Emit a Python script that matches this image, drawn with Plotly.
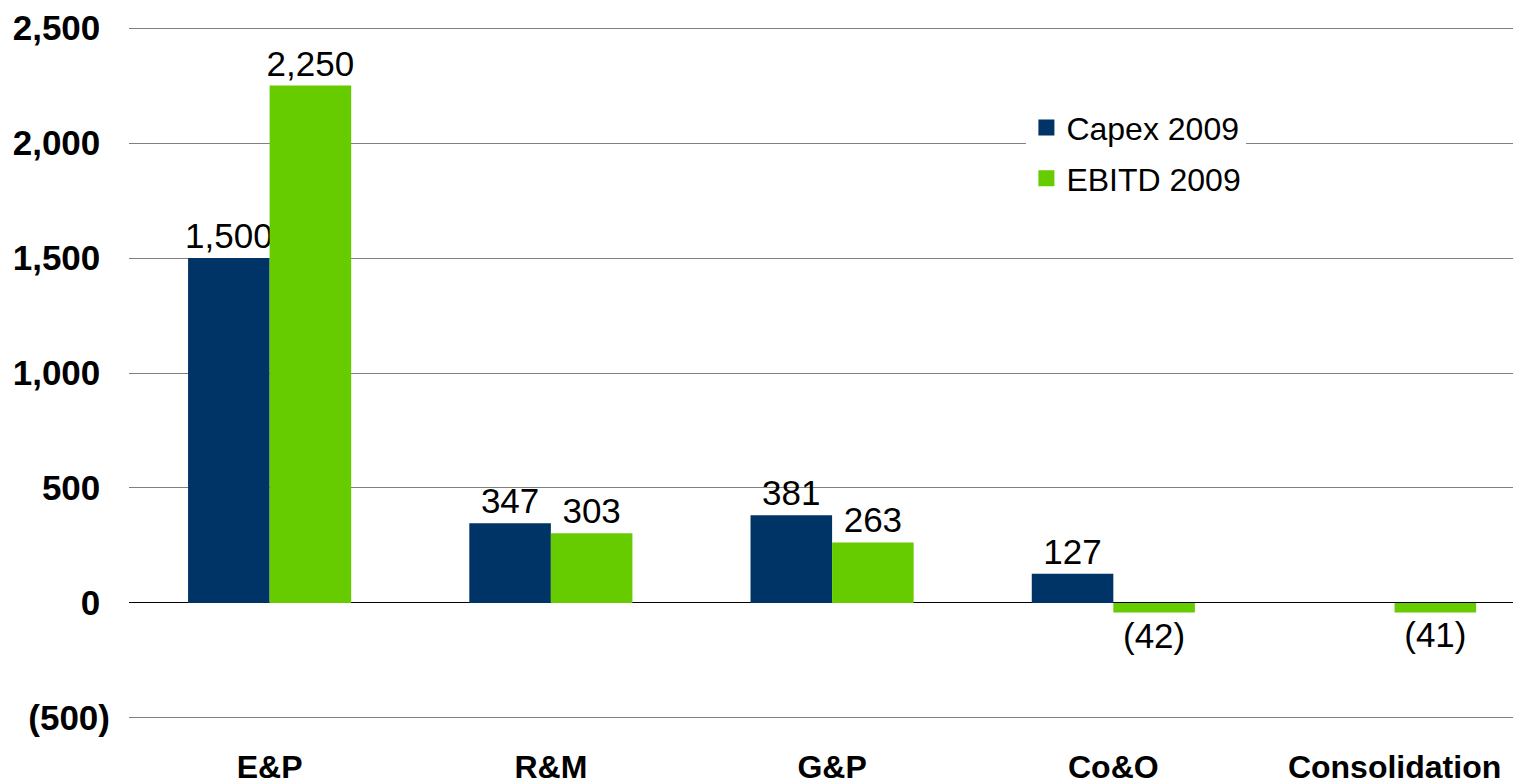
import plotly.graph_objects as go

categories = ["E&P", "R&M", "G&P", "Co&O", "Consolidation"]
capex_2009 = [1500, 347, 381, 127, None]
ebitd_2009 = [2250, 303, 263, -42, -41]
y_ticks = [-500, 0, 500, 1000, 1500, 2000, 2500]

NAVY = "#003366"
GREEN = "#66CC00"
FONT = "Liberation Sans, Arial, sans-serif"


def fmt(v):
    if v is None:
        return ""
    return "({:,})".format(-v) if v < 0 else "{:,}".format(v)


def tick_fmt(v):
    # accounting style: positives leave room for the closing paren
    return fmt(v) if v < 0 else fmt(v) + "\u2008"


fig = go.Figure()
fig.add_trace(go.Bar(
    x=categories, y=capex_2009, name="Capex 2009",
    marker=dict(color=NAVY, line=dict(width=0)),
    text=[fmt(v) for v in capex_2009], textposition="outside",
    textfont=dict(size=35, color="black", family=FONT),
    constraintext="none", cliponaxis=False, showlegend=False))
fig.add_trace(go.Bar(
    x=categories, y=ebitd_2009, name="EBITD 2009",
    marker=dict(color=GREEN, line=dict(width=0)),
    text=[fmt(v) for v in ebitd_2009], textposition="outside",
    textfont=dict(size=35, color="black", family=FONT),
    constraintext="none", cliponaxis=False, showlegend=False))

# legend entries with bigger square swatches
for name, col in [("Capex 2009", NAVY), ("EBITD 2009", GREEN)]:
    fig.add_trace(go.Scatter(
        x=[None], y=[None], mode="markers", name=name, legendgroup=name,
        marker=dict(symbol="square", size=18, color=col)))

# the page body adds an 8px offset, so margins are trimmed by 8;
# y range padded a little so the end gridlines are not clipped
fig.update_layout(
    width=1521, height=782,
    margin=dict(l=121, r=0, t=18, b=70),
    paper_bgcolor="white", plot_bgcolor="white",
    barmode="group", bargap=0.42, bargroupgap=0,
    font=dict(family=FONT, color="black"),
    legend=dict(x=0.641, y=0.893, xanchor="left", yanchor="top",
                bgcolor="white", font=dict(size=32), itemsizing="trace",
                tracegroupgap=6),
    xaxis=dict(range=[-0.5, 4.478], showgrid=False, showline=False,
               ticks="", tickfont=dict(size=32, family=FONT, weight="bold"),
               ticklabelstandoff=25),
    yaxis=dict(range=[-509, 2509], tickvals=y_ticks,
               ticktext=[tick_fmt(v) for v in y_ticks],
               showgrid=True, gridcolor="#808080", gridwidth=1,
               zeroline=True, zerolinecolor="black", zerolinewidth=1,
               showline=False, ticks="",
               tickfont=dict(size=35, family=FONT, weight="bold"),
               ticklabelstandoff=18),
)

fig.write_html("out.html")
